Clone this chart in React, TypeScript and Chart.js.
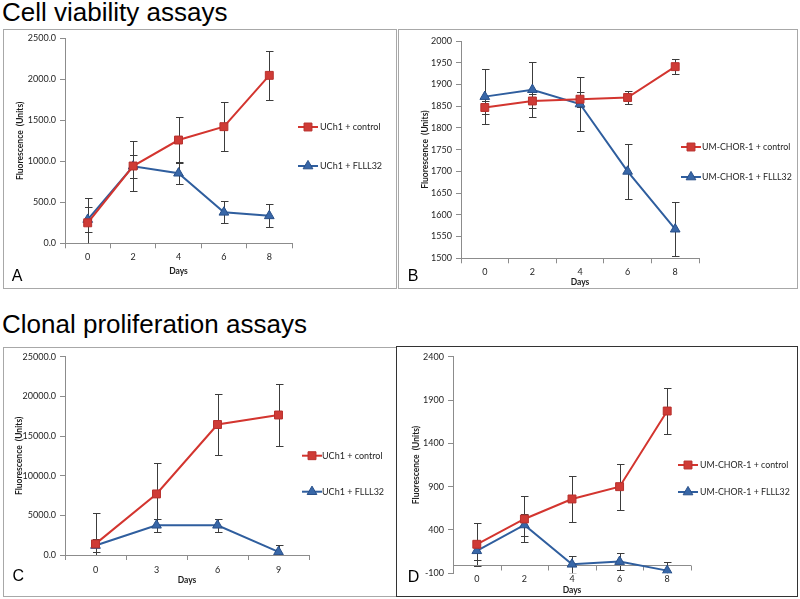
import React, { useEffect, useRef } from 'react';
import { Chart, registerables } from 'chart.js';
import { drawPoint } from 'chart.js/helpers';

Chart.register(...registerables);

// ---------- data ----------
const daysA = ['0', '2', '4', '6', '8'];
const aControl = [250, 943, 1260, 1423, 2049];
const aControlErr = [300, 300, 285, 295, 295];
const aDrug = [290, 940, 855, 378, 335];
const aDrugErr = [150, 140, 135, 135, 140];
const legendA = ['UCh1 + control', 'UCh1 + FLLL32'];

const daysB = ['0', '2', '4', '6', '8'];
const bControl = [1847, 1862, 1866, 1870, 1941];
const bControlErr = [15, 16, 17, 16, 17];
const bDrug = [1872, 1888, 1855, 1700, 1567];
const bDrugErr = [63, 64, 63, 63, 62];
const legendB = ['UM-CHOR-1 + control', 'UM-CHOR-1 + FLLL32'];

const daysC = ['0', '3', '6', '9'];
const cControl = [1400, 7700, 16450, 17650];
const cControlErr = [3900, 3870, 3880, 3870];
const cDrug = [1200, 3750, 3750, 400];
const cDrugErr = [800, 850, 850, 880];
const legendC = ['UCh1 + control', 'UCh1 + FLLL32'];

const daysD = ['0', '2', '4', '6', '8'];
const dControl = [235, 527, 758, 900, 1773];
const dControlErr = [250, 260, 265, 265, 265];
const dDrug = [160, 458, 4, 35, -69];
const dDrugErr = [110, 130, 100, 95, 105];
const legendD = ['UM-CHOR-1 + control', 'UM-CHOR-1 + FLLL32'];

// y axis ranges: [min, max, step]
const yRangeA = [0, 2500, 500];
const yRangeB = [1500, 2000, 50];
const yRangeC = [0, 25000, 5000];
const yRangeD = [-100, 2400, 500];

const yTitle = 'Fluorescence  (Units)';
const xTitle = 'Days';

// ---------- styles ----------
const RED = '#D3352F';
const RED_FILL = '#CF3B36';
const RED_EDGE = '#B8302C';
const BLUE = '#2F5E9E';
const BLUE_FILL = '#3867A8';
const BLUE_EDGE = '#284F88';
const AXIS = '#8C8C8C';
const ERR = '#3C3C3C';
const TXT = '#1E1E1E';
const FONT = 'Lato, "Open Sans", sans-serif';

const errorBars = {
  id: 'errorBars',
  beforeDatasetsDraw(chart: any) {
    const { ctx, chartArea } = chart;
    const yScale = chart.scales.y;
    ctx.save();
    ctx.beginPath();
    ctx.rect(chartArea.left, chartArea.top, chartArea.right - chartArea.left, chartArea.bottom - chartArea.top);
    ctx.clip();
    ctx.strokeStyle = ERR;
    ctx.lineWidth = 1;
    chart.data.datasets.forEach((ds: any, di: number) => {
      const meta = chart.getDatasetMeta(di);
      meta.data.forEach((pt: any, i: number) => {
        const v = ds.data[i];
        const e = ds.errors[i];
        const x = Math.round(pt.x) + 0.5;
        const yt = Math.round(yScale.getPixelForValue(v + e)) + 0.5;
        const yb = Math.round(yScale.getPixelForValue(v - e)) + 0.5;
        ctx.beginPath();
        ctx.moveTo(x, yt);
        ctx.lineTo(x, yb);
        ctx.moveTo(x - 3.5, yt);
        ctx.lineTo(x + 4, yt);
        ctx.moveTo(x - 3.5, yb);
        ctx.lineTo(x + 4, yb);
        ctx.stroke();
      });
    });
    ctx.restore();
  },
};

const sideLegend = {
  id: 'sideLegend',
  afterDraw(chart: any, _args: any, opts: any) {
    const ctx = chart.ctx;
    chart.data.datasets.forEach((ds: any, i: number) => {
      const x = opts.x;
      const y = opts.ys[i];
      ctx.save();
      ctx.strokeStyle = ds.borderColor;
      ctx.lineWidth = 2;
      ctx.beginPath();
      ctx.moveTo(x, y);
      ctx.lineTo(x + 20, y);
      ctx.stroke();
      ctx.fillStyle = ds.pointBackgroundColor;
      ctx.strokeStyle = ds.pointBorderColor;
      ctx.lineWidth = 1;
      drawPoint(ctx, { pointStyle: ds.pointStyle, radius: ds.pointRadius, rotation: 0, borderWidth: 1 } as any, x + 10, y);
      ctx.fillStyle = TXT;
      ctx.font = `${opts.size}px ${FONT}`;
      ctx.textBaseline = 'middle';
      ctx.textAlign = 'left';
      ctx.fillText(ds.label, x + opts.textGap, y);
      ctx.restore();
    });
  },
};

const zeroAxis = {
  id: 'zeroAxis',
  beforeDatasetsDraw(chart: any, _args: any, opts: any) {
    if (!opts || !opts.enabled) return;
    const { ctx, chartArea } = chart;
    const y0 = Math.round(chart.scales.y.getPixelForValue(0)) + 0.5;
    const n = chart.data.labels.length;
    const w = (chartArea.right - chartArea.left) / n;
    ctx.save();
    ctx.strokeStyle = AXIS;
    ctx.lineWidth = 1;
    ctx.beginPath();
    ctx.moveTo(chartArea.left, y0);
    ctx.lineTo(chartArea.right, y0);
    for (let i = 1; i <= n; i++) {
      const x = Math.round(chartArea.left + i * w) + 0.5;
      ctx.moveTo(x, y0);
      ctx.lineTo(x, y0 + 5);
    }
    ctx.stroke();
    ctx.restore();
  },
};

interface PanelSpec {
  left: number; top: number; width: number; height: number;
  border: string;
  labels: string[];
  control: number[]; controlErr: number[];
  drug: number[]; drugErr: number[];
  legend: string[];
  yRange: number[];
  decimals: number;
  padTop: number; padRight: number; yWidth: number; xHeight: number;
  yTitlePad: number; xTitlePad: number; xTickPad: number;
  legendX: number; legendYs: number[]; textGap: number; legendSize: number;
  zero: boolean;
}

function Panel({ p }: { p: PanelSpec }) {
  const ref = useRef<HTMLCanvasElement | null>(null);
  useEffect(() => {
    if (!ref.current) return;
    const tickFont = { family: FONT, size: 9 };
    const titleFont = { family: FONT, size: 8.5, weight: 'bold' as const };
    const chart = new Chart(ref.current, {
      type: 'line',
      data: {
        labels: p.labels,
        datasets: [
          {
            label: p.legend[0], data: p.control, errors: p.controlErr,
            borderColor: RED, backgroundColor: RED_FILL, borderWidth: 2,
            pointStyle: 'rect', pointRadius: 5.6, pointBackgroundColor: RED_FILL,
            pointBorderColor: RED_EDGE, pointBorderWidth: 1, tension: 0,
          } as any,
          {
            label: p.legend[1], data: p.drug, errors: p.drugErr,
            borderColor: BLUE, backgroundColor: BLUE_FILL, borderWidth: 2,
            pointStyle: 'triangle', pointRadius: 5.6, pointBackgroundColor: BLUE_FILL,
            pointBorderColor: BLUE_EDGE, pointBorderWidth: 1, tension: 0,
          } as any,
        ],
      },
      options: {
        animation: false,
        responsive: false,
        devicePixelRatio: 1,
        events: [],
        layout: { padding: { left: 0, top: p.padTop, right: p.padRight, bottom: 0 } },
        plugins: {
          legend: { display: false },
          tooltip: { enabled: false },
          sideLegend: { x: p.legendX, ys: p.legendYs, textGap: p.textGap, size: p.legendSize },
          zeroAxis: { enabled: p.zero },
        } as any,
        scales: {
          x: {
            type: 'category',
            offset: true,
            grid: {
              display: !p.zero, offset: true, drawOnChartArea: false,
              drawTicks: !p.zero, tickLength: 5, color: AXIS,
            },
            border: { display: !p.zero, color: AXIS },
            ticks: { font: tickFont, color: TXT, padding: p.xTickPad, maxRotation: 0, autoSkip: false },
            title: { display: true, text: xTitle, font: titleFont, color: TXT, padding: { top: 0, bottom: p.xTitlePad } },
            afterFit: (s: any) => { s.height = p.xHeight; },
          },
          y: {
            min: p.yRange[0],
            max: p.yRange[1],
            grid: { drawOnChartArea: false, drawTicks: true, tickLength: 5, color: AXIS },
            border: { display: true, color: AXIS },
            ticks: {
              stepSize: p.yRange[2], font: tickFont, color: TXT, padding: 4,
              callback: (v: any) => Number(v).toFixed(p.decimals),
            },
            title: { display: true, text: yTitle, font: titleFont, color: TXT, padding: { top: p.yTitlePad, bottom: 0 } },
            afterFit: (s: any) => { s.width = p.yWidth; },
          },
        },
      } as any,
      plugins: [errorBars, sideLegend, zeroAxis],
    });
    return () => chart.destroy();
  }, []);
  return (
    <>
      <canvas
        ref={ref}
        width={p.width}
        height={p.height}
        style={{ position: 'absolute', left: p.left, top: p.top, width: p.width, height: p.height }}
      />
      <div
        style={{
          position: 'absolute', left: p.left, top: p.top, width: p.width, height: p.height,
          border: p.border, boxSizing: 'border-box', pointerEvents: 'none',
        }}
      />
    </>
  );
}

const panelA: PanelSpec = {
  left: 3, top: 29, width: 394, height: 260, border: '1px solid #A8A8A8',
  labels: daysA, control: aControl, controlErr: aControlErr, drug: aDrug, drugErr: aDrugErr,
  legend: legendA, yRange: yRangeA, decimals: 1,
  padTop: 9.3, padRight: 105, yWidth: 62, xHeight: 45.7,
  yTitlePad: 12.6, xTitlePad: 12.9, xTickPad: 3,
  legendX: 295, legendYs: [98, 137], textGap: 22, legendSize: 9, zero: false,
};
const panelB: PanelSpec = {
  left: 398, top: 29, width: 400, height: 260, border: '1px solid #A8A8A8',
  labels: daysB, control: bControl, controlErr: bControlErr, drug: bDrug, drugErr: bDrugErr,
  legend: legendB, yRange: yRangeB, decimals: 0,
  padTop: 12, padRight: 99, yWidth: 63, xHeight: 30.7,
  yTitlePad: 22, xTitlePad: 1.6, xTickPad: 3,
  legendX: 283, legendYs: [118, 148], textGap: 21, legendSize: 8.8, zero: false,
};
const panelC: PanelSpec = {
  left: 3, top: 347, width: 394, height: 250, border: '1px solid #A8A8A8',
  labels: daysC, control: cControl, controlErr: cControlErr, drug: cDrug, drugErr: cDrugErr,
  legend: legendC, yRange: yRangeC, decimals: 1,
  padTop: 9.7, padRight: 88, yWidth: 62, xHeight: 42,
  yTitlePad: 11.2, xTitlePad: 11.2, xTickPad: 4.6,
  legendX: 299, legendYs: [108.7, 144.7], textGap: 20, legendSize: 9, zero: false,
};
const panelD: PanelSpec = {
  left: 396, top: 346, width: 402, height: 251, border: '1px solid #333333',
  labels: daysD, control: dControl, controlErr: dControlErr, drug: dDrug, drugErr: dDrugErr,
  legend: legendD, yRange: yRangeD, decimals: 0,
  padTop: 10.7, padRight: 107, yWidth: 57, xHeight: 23.7,
  yTitlePad: 15.6, xTitlePad: 1.9, xTickPad: 0,
  legendX: 282, legendYs: [119, 146], textGap: 22, legendSize: 8.8, zero: true,
};

const headingStyle: React.CSSProperties = {
  position: 'absolute', left: 2, fontFamily: '"Liberation Sans", Arial, sans-serif',
  color: '#000', whiteSpace: 'nowrap', margin: 0, fontSize: 26, lineHeight: '26px',
};
const letterStyle: React.CSSProperties = {
  position: 'absolute', fontFamily: '"Liberation Sans", Arial, sans-serif',
  fontSize: 16, lineHeight: '16px', color: '#000', whiteSpace: 'nowrap',
};

export default function App() {
  return (
    <div style={{ position: 'fixed', left: 0, top: 0, width: 800, height: 599, background: '#fff', overflow: 'hidden' }}>
      <div style={{ ...headingStyle, top: -1 }}>Cell viability assays</div>
      <div style={{ ...headingStyle, top: 311 }}>Clonal proliferation assays</div>
      <Panel p={panelA} />
      <Panel p={panelB} />
      <Panel p={panelC} />
      <Panel p={panelD} />
      <div style={{ ...letterStyle, left: 11.7, top: 268.2 }}>A</div>
      <div style={{ ...letterStyle, left: 407.7, top: 268.2 }}>B</div>
      <div style={{ ...letterStyle, left: 12.5, top: 568.2 }}>C</div>
      <div style={{ ...letterStyle, left: 407.7, top: 568.8 }}>D</div>
    </div>
  );
}
